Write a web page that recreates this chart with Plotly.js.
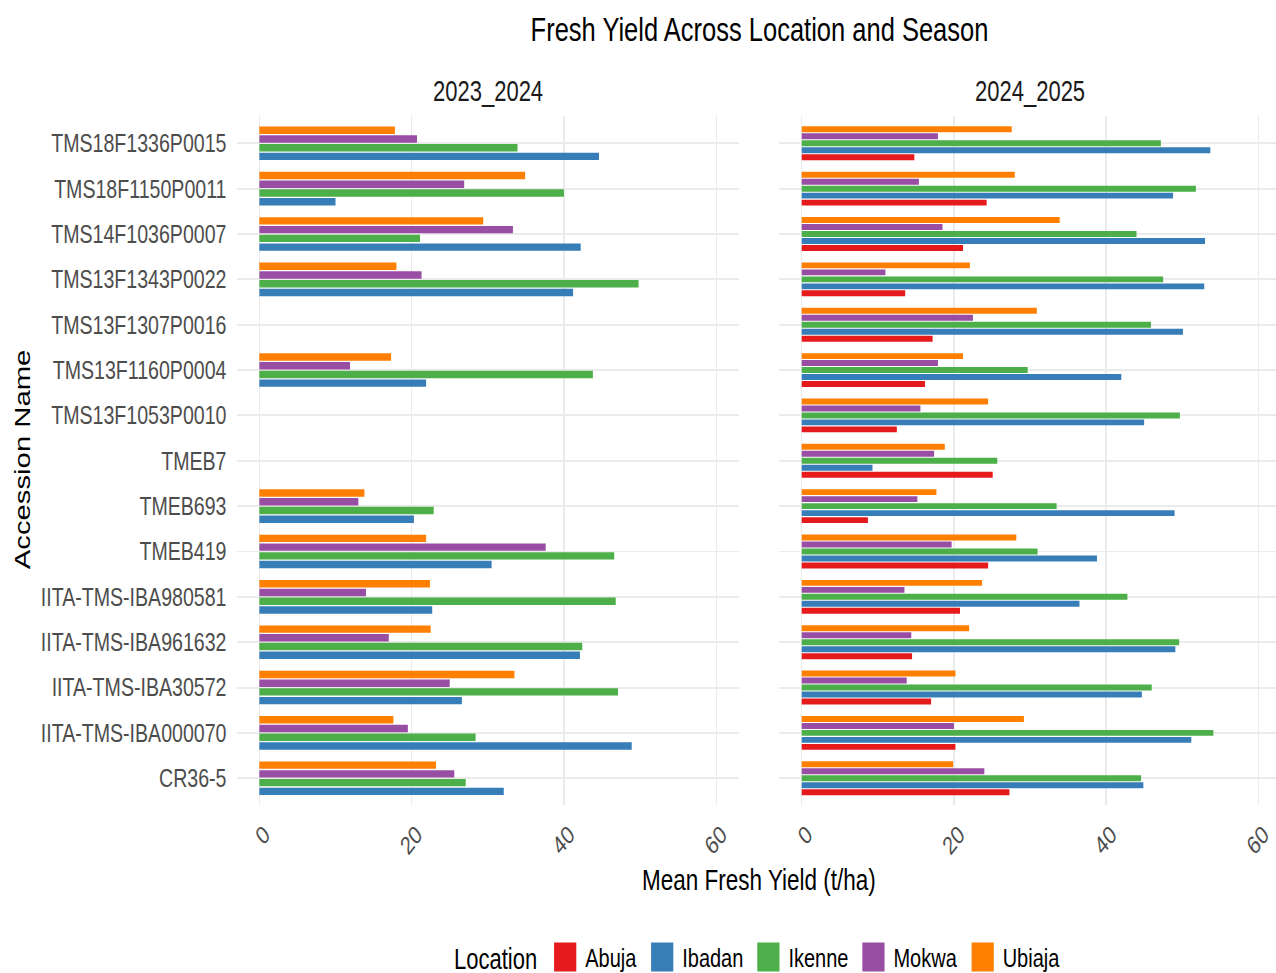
<!DOCTYPE html>
<html><head><meta charset="utf-8">
<script src="https://cdn.plot.ly/plotly-3.0.1.min.js"></script>
<style>
html,body{margin:0;padding:0;background:#fff;overflow:hidden;}
#wrap{width:1276px;height:973px;overflow:hidden;position:relative;background:#fff;}
#chart{width:1276px;height:790px;transform-origin:0 0;transform:scaleY(1.3008);}
</style></head><body>
<div id="wrap"><div id="chart"></div></div>
<script>
// Accessions, top to bottom as displayed
const categories = ["TMS18F1336P0015","TMS18F1150P0011","TMS14F1036P0007","TMS13F1343P0022","TMS13F1307P0016","TMS13F1160P0004","TMS13F1053P0010","TMEB7","TMEB693","TMEB419","IITA-TMS-IBA980581","IITA-TMS-IBA961632","IITA-TMS-IBA30572","IITA-TMS-IBA000070","CR36-5"];
const seasons = ["2023_2024","2024_2025"];
const locations = ["Abuja","Ibadan","Ikenne","Mokwa","Ubiaja"];
const locationColors = ["#E41A1C","#377EB8","#4DAF4A","#984EA3","#FF7F00"];
const xTicks = [0,20,40,60];

// Season 2023_2024 (no Abuja data)
const s2023_Ibadan = [44.6,10.0,42.2,41.2,null,21.9,null,null,20.3,30.5,22.7,42.1,26.6,48.9,32.1];
const s2023_Ikenne = [33.9,40.0,21.1,49.8,null,43.8,null,null,22.9,46.6,46.8,42.4,47.1,28.4,27.1];
const s2023_Mokwa  = [20.7,26.9,33.3,21.3,null,11.9,null,null,13.0,37.6,14.0,17.0,25.0,19.5,25.6];
const s2023_Ubiaja = [17.8,34.9,29.4,18.0,null,17.3,null,null,13.8,21.9,22.4,22.5,33.5,17.6,23.2];

// Season 2024_2025
const s2024_Abuja  = [14.8,24.3,21.2,13.6,17.2,16.2,12.5,25.1,8.7,24.5,20.8,14.5,17.0,20.2,27.3];
const s2024_Ibadan = [53.7,48.8,53.0,52.9,50.1,42.0,45.0,9.3,49.0,38.8,36.5,49.1,44.7,51.2,44.9];
const s2024_Ikenne = [47.2,51.8,44.0,47.5,45.9,29.7,49.7,25.7,33.5,31.0,42.8,49.6,46.0,54.1,44.6];
const s2024_Mokwa  = [17.9,15.4,18.5,11.0,22.5,17.9,15.6,17.4,15.2,19.7,13.5,14.4,13.8,20.0,24.0];
const s2024_Ubiaja = [27.6,28.0,33.9,22.1,30.9,21.2,24.5,18.8,17.7,28.2,23.7,22.0,20.2,29.2,19.9];

const FONT = "Liberation Sans, Arial, Helvetica, sans-serif";
const W = 1276, H = 790;

const season2023 = {Ibadan:s2023_Ibadan, Ikenne:s2023_Ikenne, Mokwa:s2023_Mokwa, Ubiaja:s2023_Ubiaja};
const season2024 = {Abuja:s2024_Abuja, Ibadan:s2024_Ibadan, Ikenne:s2024_Ikenne, Mokwa:s2024_Mokwa, Ubiaja:s2024_Ubiaja};

const data = [];
locations.forEach((loc, i) => {
  if (season2024[loc]) data.push({
    type:'bar', orientation:'h', name:loc, legendgroup:loc, showlegend:true,
    x:season2024[loc], y:categories, xaxis:'x2', yaxis:'y2',
    marker:{color:locationColors[i], line:{width:0}}, hoverinfo:'skip'
  });
});
locations.forEach((loc, i) => {
  if (season2023[loc]) data.push({
    type:'bar', orientation:'h', name:loc, legendgroup:loc, showlegend:false,
    x:season2023[loc], y:categories, xaxis:'x', yaxis:'y',
    marker:{color:locationColors[i], line:{width:0}}, hoverinfo:'skip'
  });
});

const catOrder = categories.slice().reverse();
const yDomain = [1 - 619.2/H, 1 - 89.25/H];
const tickFont = {family:FONT, size:19.6, color:'#4D4D4D'};

function xAxis(domain, range, anchor){
  return {domain:domain, range:range, anchor:anchor, tickmode:'array', tickvals:xTicks, ticktext:xTicks.map(String),
    tickangle:-45, tickfont:tickFont, showgrid:true, gridcolor:'#EBEBEB', gridwidth:1.5,
    zeroline:false, showline:false, ticks:'', ticklabelstandoff:6, ticklabelshift:5,
    ticklabeloverflow:'allow', automargin:false, fixedrange:true};
}
function yAxis(anchor, showLabels){
  return {domain:yDomain, type:'category', categoryorder:'array', categoryarray:catOrder,
    range:[-0.6, 14.6], anchor:anchor, tickmode:'linear', tick0:0, dtick:1,
    showticklabels:showLabels, tickfont:tickFont, showgrid:true, gridcolor:'#EBEBEB', gridwidth:1.5,
    zeroline:false, showline:false, ticks:'', ticklabelstandoff:9, automargin:false, fixedrange:true};
}

const layout = {
  width:W, height:H, margin:{l:0,r:0,t:0,b:0},
  paper_bgcolor:'#fff', plot_bgcolor:'#fff',
  font:{family:FONT, color:'#000'},
  barmode:'group', bargap:0.23, bargroupgap:0.15,
  title:{text:'Fresh Yield Across Location and Season', font:{family:FONT, size:25.5, color:'#000'},
    x:759.5/W, xanchor:'center', xref:'container', y:1 - 22.5/H, yanchor:'middle', yref:'container'},
  xaxis: xAxis([236.5/W, 739.1/W], [-3, 63], 'y'),
  xaxis2: xAxis([778.9/W, 1], [-3, 62.33], 'y2'),
  yaxis: yAxis('x', true),
  yaxis2: yAxis('x2', false),
  legend:{orientation:'h', x:759/W, xanchor:'center', y:1 - 735.7/H, yanchor:'middle',
    title:{text:'Location', font:{family:FONT, size:22, color:'#000'}, side:'left'},
    font:{family:FONT, size:20, color:'#000'}, bgcolor:'rgba(0,0,0,0)', itemclick:false},
  annotations:[
    {text:seasons[0], xref:'paper', yref:'paper', x:487.8/W, y:1 - 70.5/H, xanchor:'center', yanchor:'middle', showarrow:false, font:{family:FONT, size:22, color:'#1A1A1A'}},
    {text:seasons[1], xref:'paper', yref:'paper', x:1030/W, y:1 - 70.5/H, xanchor:'center', yanchor:'middle', showarrow:false, font:{family:FONT, size:22, color:'#1A1A1A'}},
    {text:'Mean Fresh Yield (t/ha)', xref:'paper', yref:'paper', x:758.5/W, y:1 - 676.5/H, xanchor:'center', yanchor:'middle', showarrow:false, font:{family:FONT, size:22.5, color:'#000'}},
    {text:'Accession Name', xref:'paper', yref:'paper', x:23/W, y:1 - 353.6/H, xanchor:'center', yanchor:'middle', textangle:-90, showarrow:false, font:{family:FONT, size:22.5, color:'#000'}}
  ]
};

Plotly.newPlot('chart', data, layout, {staticPlot:true, displayModeBar:false}).then(gd => {
  gd.querySelectorAll('.legend .legendpoints path').forEach(p => {
    const t = p.getAttribute('transform') || '';
    p.setAttribute('transform', t + ' scale(1.85)');
  });
});
</script>
</body></html>
